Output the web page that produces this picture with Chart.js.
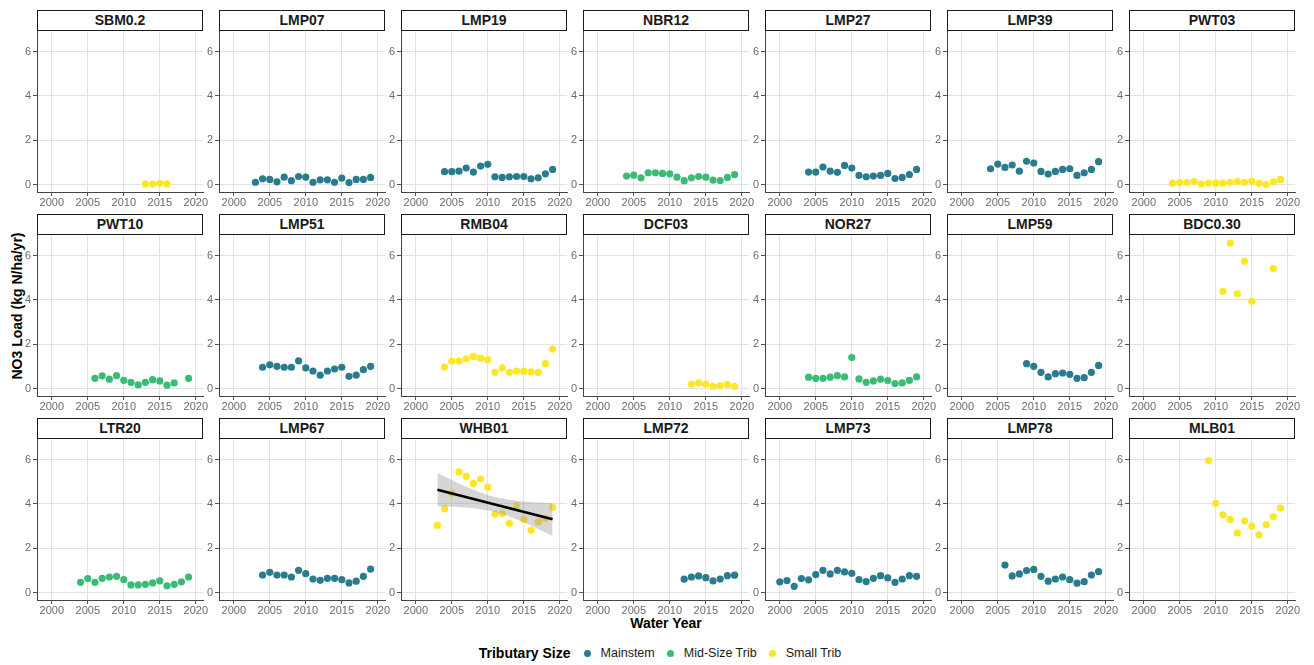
<!DOCTYPE html>
<html>
<head>
<meta charset="utf-8">
<script src="https://cdn.jsdelivr.net/npm/chart.js@4/dist/chart.umd.min.js"></script>
<style>
  body { margin: 0; background: #fff; font-family: "Liberation Sans", Arial, sans-serif; }
  #wrap { position: relative; width: 1314px; height: 665px; overflow: hidden; }
  canvas { position: absolute; }
  .strip {
    position: absolute; box-sizing: border-box; height: 21px; width: 166px;
    border: 1px solid #1a1a1a; background: #fff;
    font-weight: bold; font-size: 14px; line-height: 19px; text-align: center; color: #1a1a1a;
  }
  #ytitle {
    position: absolute; left: 17px; top: 306px; transform: translate(-50%, -50%) rotate(-90deg);
    font-weight: bold; font-size: 14px; white-space: nowrap; color: #000;
  }
  #xtitle {
    position: absolute; left: 666px; top: 623px; transform: translate(-50%, -50%);
    font-weight: bold; font-size: 14px; white-space: nowrap; color: #000;
  }
  #legend {
    position: absolute; left: 0; width: 1332px; top: 644px; height: 18px;
    display: flex; justify-content: center; align-items: center; font-size: 12.5px; color: #1a1a1a;
  }
  #legend b { font-size: 14px; margin-right: 13px; color: #000; }
  #legend .dot { width: 7px; height: 7px; border-radius: 50%; display: inline-block; margin-right: 10px; }
  #legend .item { display: flex; align-items: center; margin-right: 12px; }
</style>
</head>
<body>
<div id="wrap">
  <div id="ytitle">NO3 Load (kg N/ha/yr)</div>
  <div id="xtitle">Water Year</div>
  <div id="legend"></div>
</div>
<script>
// water years, one slot per year (null = no load estimate)
const years = [2000, 2001, 2002, 2003, 2004, 2005, 2006, 2007, 2008, 2009,
               2010, 2011, 2012, 2013, 2014, 2015, 2016, 2017, 2018, 2019];
const n = null;

const siteNames = ['SBM0.2', 'LMP07', 'LMP19', 'NBR12', 'LMP27', 'LMP39', 'PWT03',
                   'PWT10', 'LMP51', 'RMB04', 'DCF03', 'NOR27', 'LMP59', 'BDC0.30',
                   'LTR20', 'LMP67', 'WHB01', 'LMP72', 'LMP73', 'LMP78', 'MLB01'];
const siteSizes = ['Small Trib', 'Mainstem', 'Mainstem', 'Mid-Size Trib', 'Mainstem', 'Mainstem', 'Small Trib',
                   'Mid-Size Trib', 'Mainstem', 'Small Trib', 'Small Trib', 'Mid-Size Trib', 'Mainstem', 'Small Trib',
                   'Mid-Size Trib', 'Mainstem', 'Small Trib', 'Mainstem', 'Mainstem', 'Mainstem', 'Small Trib'];

// NO3 load, kg N/ha/yr
const sbm02  = [n,n,n,n,n,n,n,n,n,n,n,n,n,0.02,0.02,0.05,0.03,n,n,n];
const lmp07  = [n,n,n,0.10,0.26,0.23,0.12,0.33,0.17,0.36,0.33,0.10,0.21,0.21,0.10,0.29,0.09,0.23,0.23,0.32];
const lmp19  = [n,n,n,n,0.58,0.58,0.60,0.74,0.56,0.83,0.91,0.35,0.32,0.35,0.36,0.36,0.26,0.30,0.48,0.68];
const nbr12  = [n,n,n,n,0.38,0.42,0.30,0.53,0.53,0.50,0.48,0.33,0.17,0.30,0.36,0.33,0.20,0.18,0.32,0.45];
const lmp27  = [n,n,n,n,0.56,0.56,0.79,0.60,0.55,0.86,0.74,0.41,0.35,0.38,0.41,0.50,0.27,0.32,0.45,0.68];
const lmp39  = [n,n,n,n,0.71,0.92,0.77,0.88,0.60,1.05,0.97,0.59,0.47,0.59,0.68,0.71,0.41,0.53,0.68,1.03];
const pwt03  = [n,n,n,n,0.06,0.08,0.10,0.13,0.02,0.06,0.06,0.06,0.10,0.13,0.10,0.15,0.05,0.00,0.12,0.23];
const pwt10  = [n,n,n,n,n,n,0.46,0.57,0.42,0.58,0.37,0.28,0.16,0.28,0.40,0.34,0.15,0.25,n,0.46];
const lmp51  = [n,n,n,n,0.96,1.07,1.00,0.96,0.96,1.25,0.93,0.79,0.60,0.79,0.88,0.96,0.55,0.60,0.85,1.00];
const rmb04  = [n,n,n,n,0.97,1.24,1.24,1.34,1.45,1.37,1.30,0.73,0.93,0.73,0.79,0.78,0.75,0.73,1.12,1.78];
const dcf03  = [n,n,n,n,n,n,n,n,n,n,n,n,n,0.19,0.25,0.19,0.10,0.13,0.18,0.10];
const nor27  = [n,n,n,n,0.51,0.46,0.46,0.51,0.58,0.52,1.40,0.43,0.28,0.34,0.42,0.36,0.22,0.25,0.37,0.52];
const lmp59  = [n,n,n,n,n,n,n,n,n,1.12,1.00,0.73,0.52,0.67,0.70,0.64,0.46,0.49,0.73,1.04];
const bdc030 = [n,n,n,n,n,n,n,n,n,n,n,4.39,6.57,4.28,5.75,3.94,n,n,5.42,n];
const ltr20  = [n,n,n,n,0.46,0.63,0.46,0.64,0.70,0.73,0.58,0.34,0.34,0.37,0.43,0.52,0.30,0.37,0.48,0.70];
const lmp67  = [n,n,n,n,0.79,0.91,0.79,0.79,0.70,1.00,0.85,0.61,0.55,0.64,0.64,0.58,0.43,0.51,0.73,1.06];
const whb01  = [n,n,n,3.03,3.79,4.49,5.45,5.25,4.93,5.13,4.76,3.54,3.57,3.13,3.93,3.30,2.81,3.19,3.34,3.85];
const lmp72  = [n,n,n,n,n,n,n,n,n,n,n,n,0.60,0.70,0.75,0.67,0.52,0.61,0.76,0.78];
const lmp73  = [0.48,0.54,0.28,0.63,0.57,0.81,1.00,0.84,1.00,0.93,0.87,0.58,0.49,0.64,0.76,0.66,0.46,0.61,0.76,0.73];
const lmp78  = [n,n,n,n,n,n,1.24,0.75,0.84,0.99,1.04,0.73,0.51,0.61,0.70,0.58,0.42,0.49,0.79,0.94];
const mlb01  = [n,n,n,n,n,n,n,n,n,5.96,4.03,3.51,3.30,2.69,3.24,3.00,2.61,3.06,3.42,3.81];

const siteValues = [sbm02, lmp07, lmp19, nbr12, lmp27, lmp39, pwt03,
                    pwt10, lmp51, rmb04, dcf03, nor27, lmp59, bdc030,
                    ltr20, lmp67, whb01, lmp72, lmp73, lmp78, mlb01];

// linear trend + 95% band at WHB01
const trendYears = [2003, 2019];
const trendFit = [4.64, 3.31];
const bandYears = [2003, 2005, 2007, 2009, 2011, 2013, 2015, 2017, 2019];
const bandUpper = [5.40, 5.08, 4.78, 4.52, 4.32, 4.19, 4.11, 4.07, 4.05];
const bandLower = [3.90, 3.88, 3.84, 3.76, 3.64, 3.43, 3.17, 2.87, 2.55];

const sizeNames = ['Mainstem', 'Mid-Size Trib', 'Small Trib'];
const sizeColors = ['#287C8E', '#3BBB75', '#FDE725'];

const xTicks = [2000, 2005, 2010, 2015, 2020];
const yTicks = [0, 2, 4, 6];

const wrap = document.getElementById('wrap');
const font = { family: '"Liberation Sans", Arial, sans-serif', size: 11 };
const tickColor = '#6b6b6b';

function pts(xs, ys) {
    const out = [];
    xs.forEach((x, i) => { if (ys[i] !== null) out.push({ x: x, y: ys[i] }); });
    return out;
}

siteNames.forEach((name, i) => {
    const col = i % 7, row = Math.floor(i / 7);
    const left = 37 + 182 * col;
    const top = 31 + 204 * row;

    const strip = document.createElement('div');
    strip.className = 'strip';
    strip.style.left = left + 'px';
    strip.style.top = (top - 21) + 'px';
    strip.textContent = name;
    wrap.appendChild(strip);

    const cv = document.createElement('canvas');
    cv.width = 200; cv.height = 189;
    cv.style.left = (left - 24) + 'px';
    cv.style.top = (top - 8) + 'px';
    wrap.appendChild(cv);

    const color = sizeColors[sizeNames.indexOf(siteSizes[i])];
    const datasets = [{
        label: name,
        data: pts(years, siteValues[i]),
        backgroundColor: color,
        borderWidth: 0,
        pointRadius: 3.6,
        pointHoverRadius: 3.6,
        order: 3
    }];

    if (name === 'WHB01') {
        datasets.push({
            data: pts(bandYears, bandUpper), showLine: true, pointRadius: 0, borderWidth: 0,
            fill: '+1', backgroundColor: 'rgba(153,153,153,0.4)', cubicInterpolationMode: 'monotone', order: 2
        });
        datasets.push({
            data: pts(bandYears, bandLower), showLine: true, pointRadius: 0, borderWidth: 0,
            fill: false, cubicInterpolationMode: 'monotone', order: 2
        });
        datasets.push({
            data: pts(trendYears, trendFit), showLine: true, pointRadius: 0,
            borderColor: '#000', borderWidth: 2.6, order: 1
        });
    }

    new Chart(cv.getContext('2d'), {
        type: 'scatter',
        data: { datasets: datasets },
        options: {
            responsive: false,
            animation: false,
            layout: { padding: { top: 8, right: 10, left: 0, bottom: 0 } },
            plugins: { legend: { display: false }, tooltip: { enabled: false } },
            scales: {
                x: {
                    type: 'linear', min: 1997.95, max: 2021.0,
                    afterBuildTicks: s => { s.ticks = xTicks.map(v => ({ value: v })); },
                    afterFit: s => { s.height = 20; },
                    ticks: { callback: v => String(v), color: tickColor, font: font, padding: 0, maxRotation: 0, autoSkip: false },
                    grid: { color: '#e3e3e3', tickColor: '#555', tickLength: 4 },
                    border: { color: '#444', width: 1 }
                },
                y: {
                    min: -0.34, max: 6.91,
                    afterBuildTicks: s => { s.ticks = yTicks.map(v => ({ value: v })); },
                    afterFit: s => { s.width = 24; },
                    ticks: { color: tickColor, font: font, padding: 2 },
                    grid: { color: '#e3e3e3', tickColor: '#555', tickLength: 4 },
                    border: { color: '#444', width: 1 }
                }
            }
        }
    });
});

// legend
const legend = document.getElementById('legend');
legend.innerHTML = '<b>Tributary Size</b>' + sizeNames.map((s, i) =>
    '<span class="item"><span class="dot" style="background:' + sizeColors[i] + '"></span>' + s + '</span>').join('');
</script>
</body>
</html>
